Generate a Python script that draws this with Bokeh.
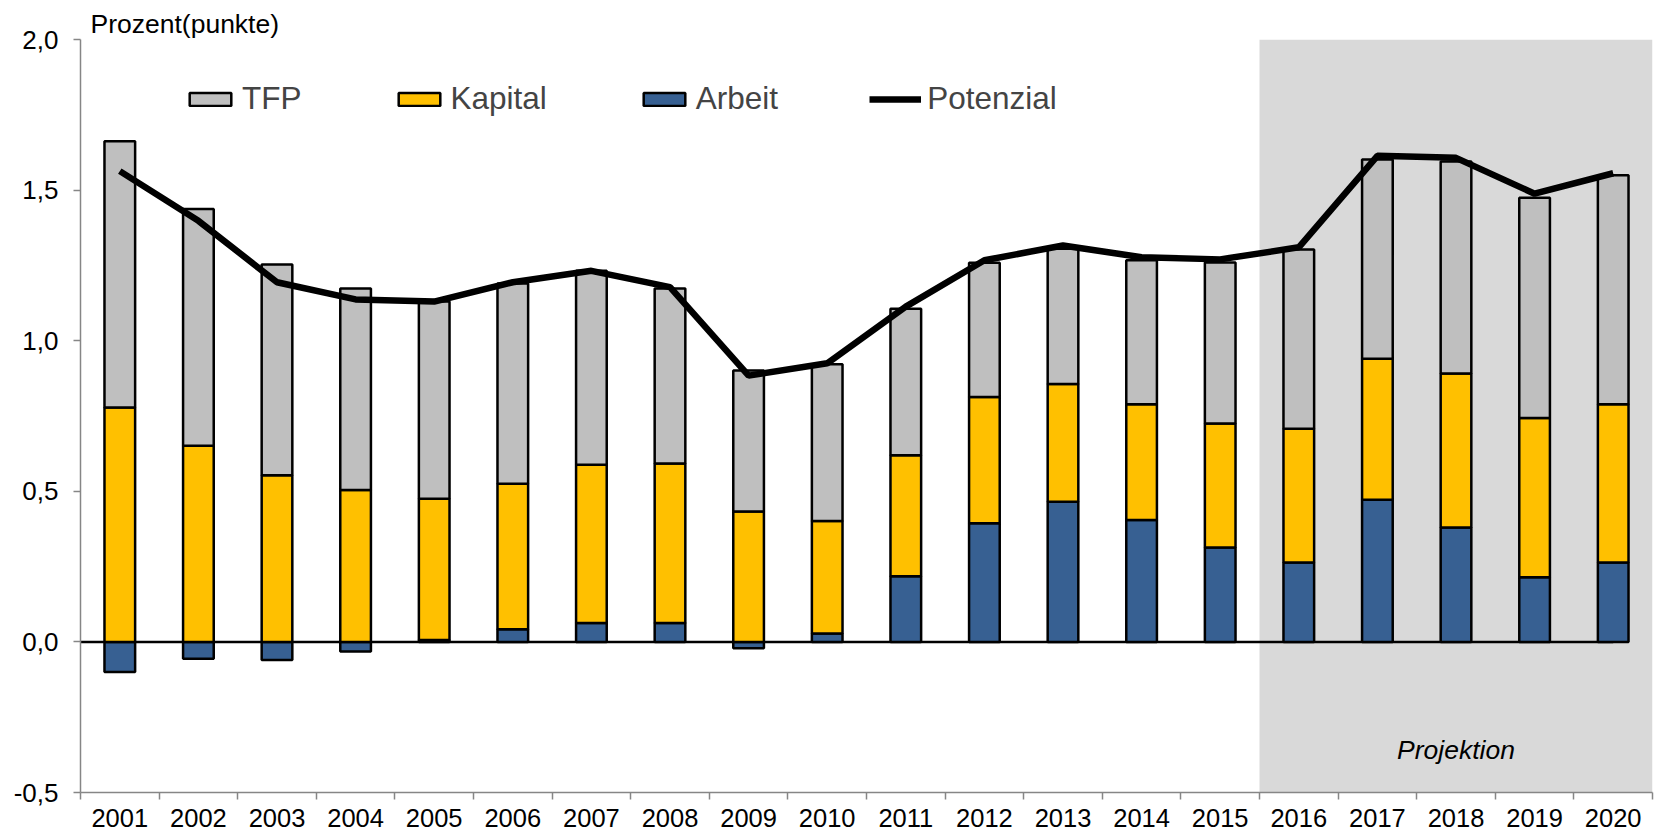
import numpy as np
from bokeh.plotting import figure
from bokeh.models import ColumnDataSource, FixedTicker, Legend, LegendItem, Label
from bokeh.embed import file_html
from bokeh.resources import INLINE

# ---------------- data ----------------
years = [str(y) for y in range(2001, 2021)]
arbeit = [-0.100, -0.056, -0.060, -0.032, 0.006, 0.042, 0.063, 0.063, -0.021, 0.028,
          0.218, 0.394, 0.465, 0.405, 0.313, 0.264, 0.472, 0.380, 0.215, 0.264]
kapital = [0.778, 0.651, 0.553, 0.504, 0.469, 0.483, 0.525, 0.529, 0.433, 0.373,
           0.402, 0.419, 0.391, 0.384, 0.412, 0.444, 0.468, 0.511, 0.528, 0.525]
tfp = [0.884, 0.786, 0.700, 0.669, 0.655, 0.665, 0.644, 0.581, 0.468, 0.521,
       0.486, 0.446, 0.449, 0.478, 0.535, 0.595, 0.662, 0.704, 0.732, 0.760]
potenzial = [1.563, 1.398, 1.194, 1.137, 1.130, 1.194, 1.232, 1.178, 0.884, 0.925,
             1.113, 1.267, 1.316, 1.277, 1.270, 1.310, 1.614, 1.607, 1.488, 1.556]
y_ticks = [-0.5, 0.0, 0.5, 1.0, 1.5, 2.0]
y_tick_labels = ["-0,5", "0,0", "0,5", "1,0", "1,5", "2,0"]
series_names = ["TFP", "Kapital", "Arbeit", "Potenzial"]
projection_start = "2016"
y_title = "Prozent(punkte)"
projection_text = "Projektion"

# ---------------- derived ----------------
n = len(years)
xc = np.arange(n) + 0.5
arb = np.array(arbeit)
kap = np.array(kapital)
tf = np.array(tfp)
arb_pos = np.clip(arb, 0, None)
kap_top = arb_pos + kap
tfp_top = kap_top + tf

src = ColumnDataSource(dict(x=xc, arb=arb, kap_bottom=arb_pos, kap_top=kap_top,
                            tfp_top=tfp_top, pot=np.array(potenzial)))

FONT = "Liberation Sans"
GRAY_AX = "#868686"

p = figure(width=1660, height=836, x_range=(0, n), y_range=(y_ticks[0], y_ticks[-1]),
           output_backend="svg", toolbar_location=None,
           min_border_left=80, min_border_right=8, min_border_top=39, min_border_bottom=44)
p.xgrid.visible = False
p.ygrid.visible = False
p.outline_line_color = None
p.background_fill_color = "white"

# title ("Prozent(punkte)")
p.title.text = y_title
p.title.align = "left"
p.title.offset = 10
p.title.standoff = 1
p.title.text_font = FONT
p.title.text_font_size = "26.5px"
p.title.text_font_style = "normal"
p.title.text_color = "black"

# projection shading
ps = years.index(projection_start)
p.quad(left=[ps], right=[n], bottom=[y_ticks[0]], top=[y_ticks[-1]],
       fill_color="#D9D9D9", line_color=None)

# zero line
p.line(x=[0, xc[-1]], y=[0, 0], line_color="black", line_width=2.5)

bw = 0.39
r_arb = p.vbar(x="x", width=bw, bottom=0, top="arb", source=src,
               fill_color="#376092", line_color="black", line_width=2.5)
r_kap = p.vbar(x="x", width=bw, bottom="kap_bottom", top="kap_top", source=src,
               fill_color="#FFC000", line_color="black", line_width=2.5)
r_tfp = p.vbar(x="x", width=bw, bottom="kap_top", top="tfp_top", source=src,
               fill_color="#BFBFBF", line_color="black", line_width=2.5)
r_pot = p.line(x="x", y="pot", source=src, line_color="black", line_width=6.5)

legend = Legend(items=[LegendItem(label=series_names[0], renderers=[r_tfp]),
                       LegendItem(label=series_names[1], renderers=[r_kap]),
                       LegendItem(label=series_names[2], renderers=[r_arb]),
                       LegendItem(label=series_names[3], renderers=[r_pot])],
                orientation="horizontal", location=(104, 675),
                glyph_width=52, glyph_height=16, label_standoff=6, spacing=91,
                padding=0, margin=0, label_text_font_size="31.5px", label_text_font=FONT,
                background_fill_alpha=0, border_line_color=None)
p.add_layout(legend)

# axes
xa = p.xaxis[0]
xa.ticker = FixedTicker(ticks=list(xc), minor_ticks=list(range(n + 1)))
xa.major_label_overrides = {float(v): y for v, y in zip(xc, years)}
xa.major_tick_line_color = None
xa.major_tick_out = 7
xa.major_tick_in = 0
xa.minor_tick_line_color = GRAY_AX
xa.minor_tick_line_width = 1.5
xa.minor_tick_out = 7
xa.minor_tick_in = 0
xa.axis_line_color = GRAY_AX
xa.axis_line_width = 1.5
xa.major_label_standoff = 9
xa.major_label_text_font_size = "25.5px"
xa.major_label_text_font = FONT
xa.major_label_text_color = "black"

ya = p.yaxis[0]
ya.ticker = FixedTicker(ticks=y_ticks)
ya.major_label_overrides = {float(v): s for v, s in zip(y_ticks, y_tick_labels)}
ya.major_tick_line_color = GRAY_AX
ya.major_tick_line_width = 1.5
ya.major_tick_out = 7
ya.major_tick_in = 0
ya.minor_tick_line_color = None
ya.axis_line_color = GRAY_AX
ya.axis_line_width = 1.5
ya.major_label_standoff = 15
ya.major_label_text_font_size = "26px"
ya.major_label_text_font = FONT
ya.major_label_text_color = "black"

p.add_layout(Label(x=(ps + n) / 2, y=-0.36, text=projection_text,
                   text_font_size="26.5px", text_font=FONT, text_font_style="italic",
                   text_align="center", text_baseline="middle", text_color="black"))

open("out.html", "w").write(file_html(p, INLINE))
